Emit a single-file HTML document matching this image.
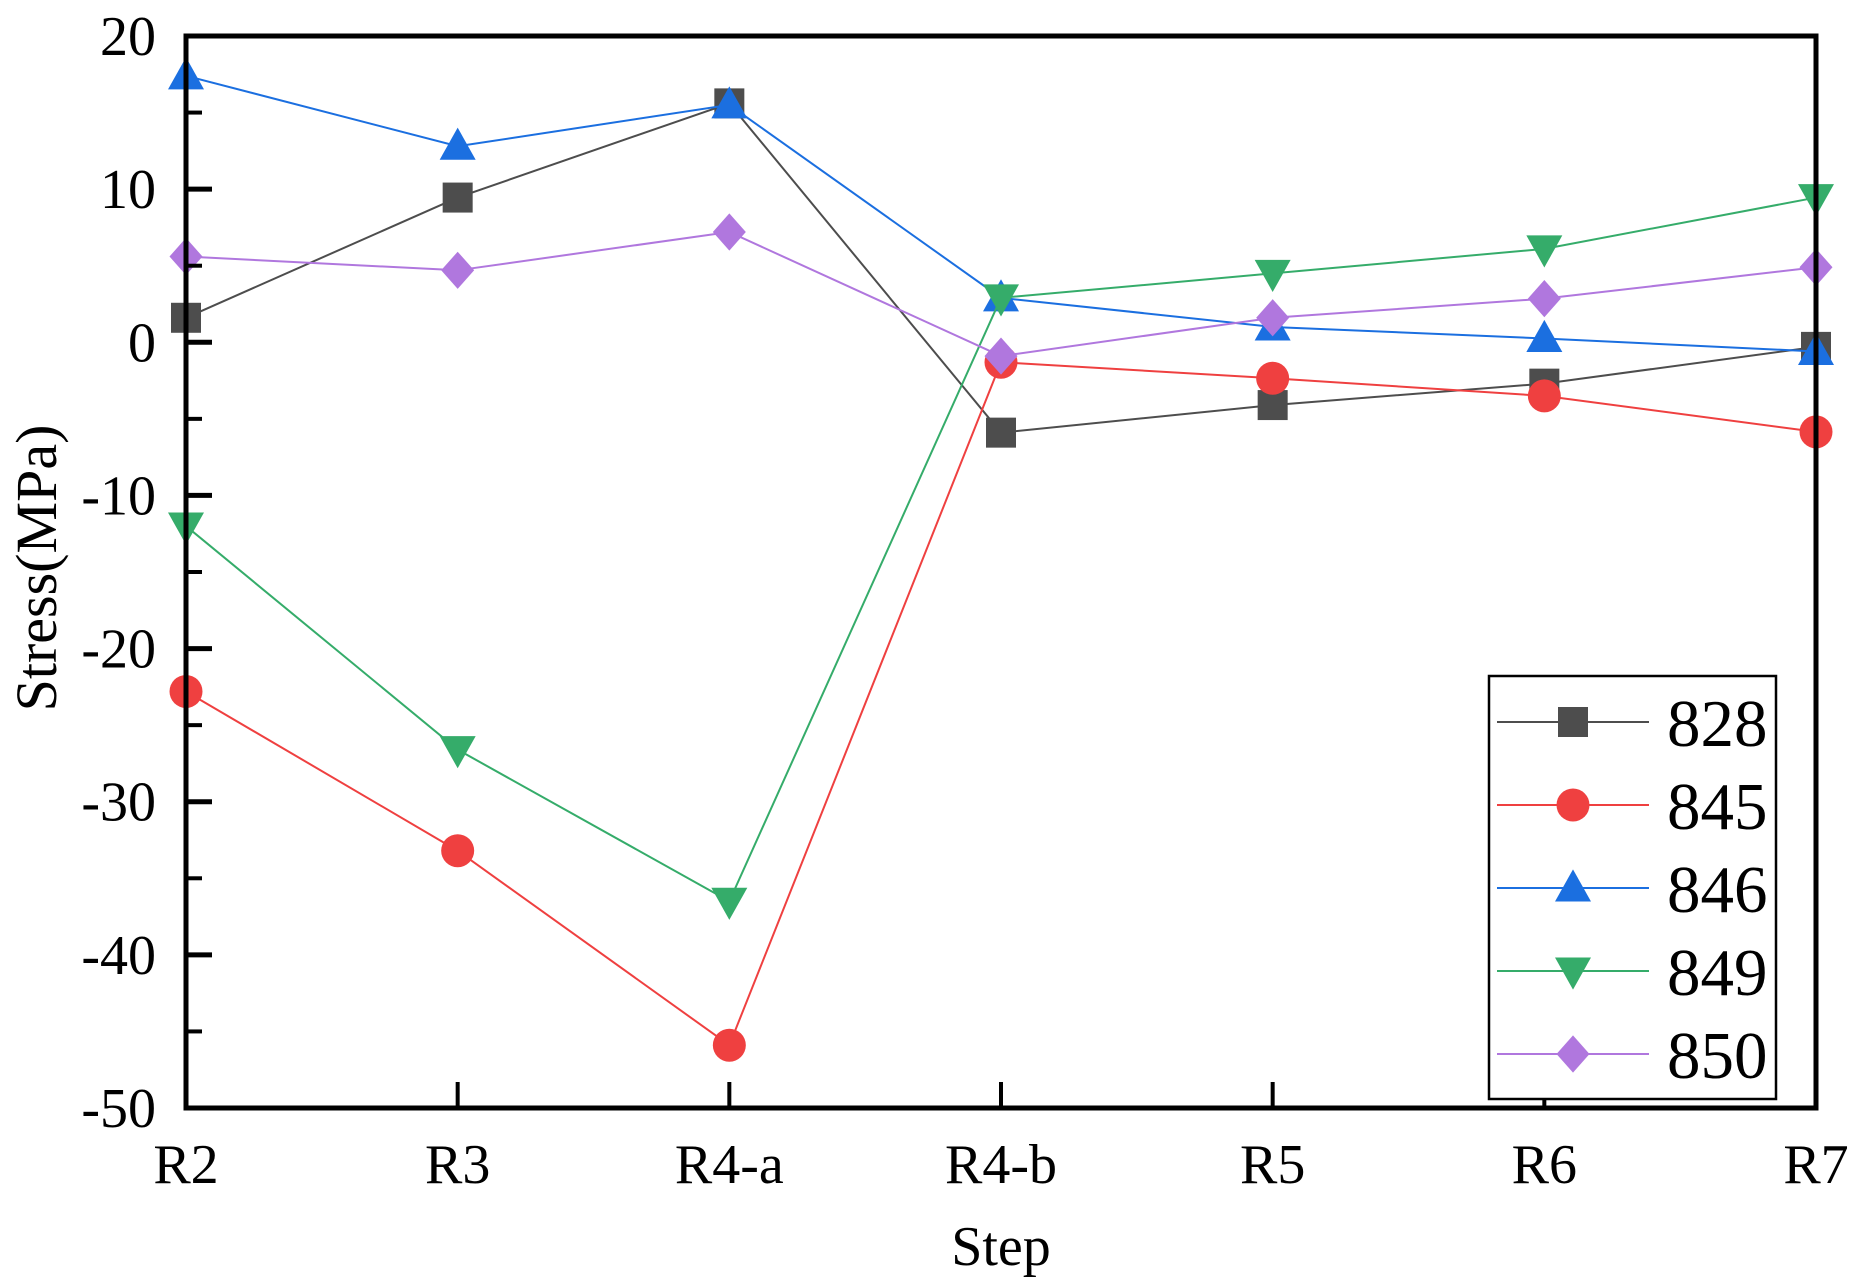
<!DOCTYPE html>
<html><head><meta charset="utf-8">
<style>
html,body{margin:0;padding:0;background:#fff;}
svg{display:block;}
svg text{font-family:"Liberation Serif","Times New Roman","DejaVu Serif",serif !important;}
</style></head>
<body>
<svg id="chart" width="1862" height="1288" viewBox="0 0 1862 1288" xmlns="http://www.w3.org/2000/svg">
<g id="grid"></g>
</svg>
<script>
const categories = ["R2","R3","R4-a","R4-b","R5","R6","R7"];
const yTicks = [20,10,0,-10,-20,-30,-40,-50];
const seriesNames = ["828","845","846","849","850"];
const s828 = [1.6, 9.45, 15.6, -5.9, -4.1, -2.7, -0.3];
const s845 = [-22.8, -33.2, -45.9, -1.3, -2.35, -3.5, -5.85];
const s846 = [17.4, 12.8, 15.5, 2.9, 1.0, 0.25, -0.6];
const s849 = [-12.0, -26.6, -36.5, 2.9, 4.5, 6.1, 9.45];
const s850 = [5.6, 4.7, 7.2, -0.9, 1.6, 2.85, 4.9];

const NS = "http://www.w3.org/2000/svg";
const FONT = '"Liberation Serif", "Times New Roman", "DejaVu Serif", serif';
const svg = document.getElementById('chart');
const L=186, R=1816, T=36, B=1108, YMAX=20, YMIN=-50;
function xs(i){return L + i*(R-L)/(categories.length-1);}
function ys(v){return T + (YMAX-v)*(B-T)/(YMAX-YMIN);}
function mk(tag, attrs, parent){const e=document.createElementNS(NS,tag);for(const k in attrs)e.setAttribute(k,attrs[k]);if(tag==='text')e.setAttribute('font-family',FONT);(parent||svg).appendChild(e);return e;}

const styles = [
 {data:s828,color:"#4d4d4d",shape:"square"},
 {data:s845,color:"#ef4040",shape:"circle"},
 {data:s846,color:"#1b6fe0",shape:"up"},
 {data:s849,color:"#35ac6a",shape:"down"},
 {data:s850,color:"#b077de",shape:"diamond"}
];
function marker(shape,cx,cy,color,sz,parent){
  let e;
  if(shape==="square") e=mk('rect',{x:cx-sz/2,y:cy-sz/2,width:sz,height:sz,fill:color},parent);
  else if(shape==="circle") e=mk('circle',{cx:cx,cy:cy,r:sz*0.55,fill:color},parent);
  else if(shape==="up") e=mk('polygon',{points:`${cx},${cy-sz*0.62} ${cx-sz*0.6},${cy+sz*0.45} ${cx+sz*0.6},${cy+sz*0.45}`,fill:color},parent);
  else if(shape==="down") e=mk('polygon',{points:`${cx},${cy+sz*0.62} ${cx-sz*0.6},${cy-sz*0.45} ${cx+sz*0.6},${cy-sz*0.45}`,fill:color},parent);
  else e=mk('polygon',{points:`${cx},${cy-sz*0.62} ${cx+sz*0.55},${cy} ${cx},${cy+sz*0.62} ${cx-sz*0.55},${cy}`,fill:color},parent);
  return e;
}

styles.forEach((s,si)=>{
  const g=mk('g',{});
  
  
  const pts=s.data.map((v,i)=>xs(i)+','+ys(v)).join(' ');
  const pl=mk('polyline',{points:pts,fill:'none',stroke:s.color,'stroke-width':2},g);
  
  
  s.data.forEach((v,i)=>{
    const m=marker(s.shape,xs(i),ys(v),s.color,30,g);
    
    
  });
});

const frame=mk('rect',{x:L,y:T,width:R-L,height:B-T,fill:'none',stroke:'#000','stroke-width':5});



yTicks.forEach((v,i)=>{
  const t=mk('line',{x1:L,x2:L+26,y1:ys(v),y2:ys(v),stroke:'#000','stroke-width':5});
  
  
  if(i<yTicks.length-1){
    const mv=v-5;
    const m=mk('line',{x1:L,x2:L+16,y1:ys(mv),y2:ys(mv),stroke:'#000','stroke-width':4});
    
    
  }
  const lb=mk('text',{x:156,y:ys(v)+19,'text-anchor':'end','font-size':56,fill:'#000'});
  lb.textContent=String(v);
  
  
});
categories.forEach((c,i)=>{
  const t=mk('line',{x1:xs(i),x2:xs(i),y1:B,y2:B-26,stroke:'#000','stroke-width':4});
  
  
  const lb=mk('text',{x:xs(i),y:1183,'text-anchor':'middle','font-size':56,fill:'#000'});
  lb.textContent=c;
  
  
});
const xt=mk('text',{x:1001,y:1265,'text-anchor':'middle','font-size':56,fill:'#000'});
xt.textContent='Step';


const yt=mk('text',{x:0,y:0,'text-anchor':'middle','font-size':58,fill:'#000',transform:'translate(56,568) rotate(-90)'});
yt.textContent='Stress(MPa)';



const lg=mk('g',{});


const lbox=mk('rect',{x:1489,y:676,width:287,height:423,fill:'#fff',stroke:'#000','stroke-width':2.5},lg);


styles.forEach((s,si)=>{
  const cy=722+si*83;
  const e=mk('g',{},lg);
  
  
  mk('line',{x1:1497,x2:1649,y1:cy,y2:cy,stroke:s.color,'stroke-width':2},e);
  marker(s.shape,1573,cy,s.color,30,e);
  const t=mk('text',{x:1667,y:cy+24,'font-size':67,fill:'#000'},e);
  t.textContent=seriesNames[si];
});
</script>
</body></html>
